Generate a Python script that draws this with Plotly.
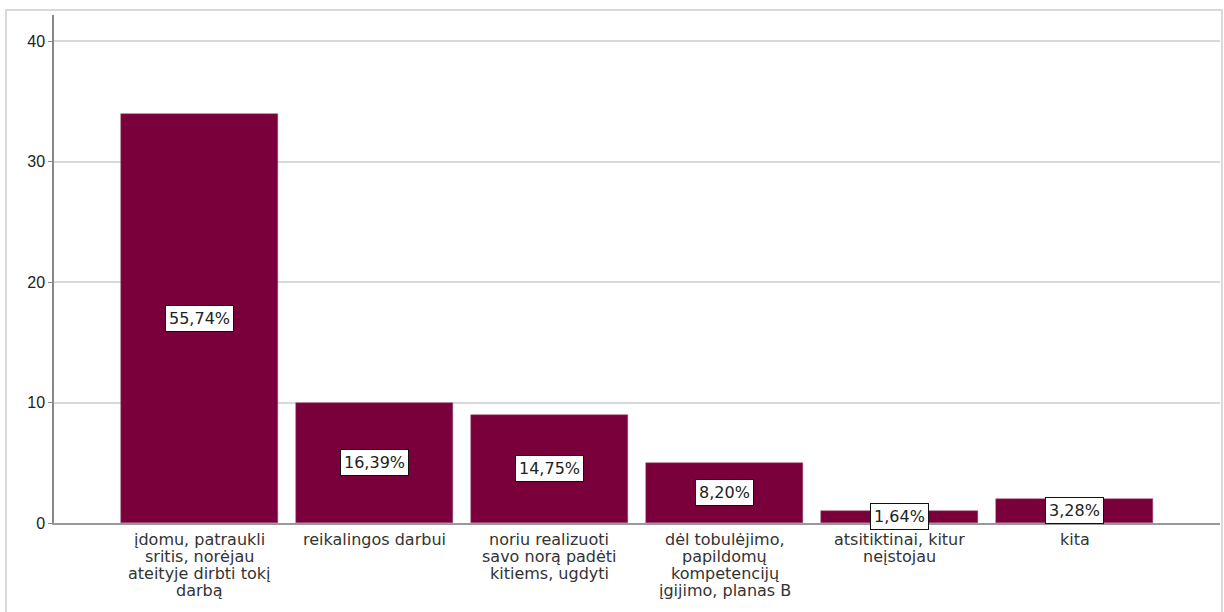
import plotly.graph_objects as go

categories = [
    "įdomu, patraukli\nsritis, norėjau\nateityje dirbti tokį\ndarbą",
    "reikalingos darbui",
    "noriu realizuoti\nsavo norą padėti\nkitiems, ugdyti",
    "dėl tobulėjimo,\npapildomų\nkompetencijų\nįgijimo, planas B",
    "atsitiktinai, kitur\nneįstojau",
    "kita",
]
counts = [34, 10, 9, 5, 1, 2]
pct_labels = ["55,74%", "16,39%", "14,75%", "8,20%", "1,64%", "3,28%"]
y_ticks = [0, 10, 20, 30, 40]

x_idx = list(range(len(categories)))
FONT = "DejaVu Sans"

fig = go.Figure()
fig.add_trace(go.Bar(
    x=x_idx, y=counts, width=0.897,
    marker=dict(color="#7A003C", line=dict(color="#9a4a70", width=0.5)),
    hoverinfo="skip",
))

for i, (c, p) in enumerate(zip(counts, pct_labels)):
    fig.add_annotation(
        x=i, y=c / 2, text=p, showarrow=False,
        font=dict(family=FONT, size=16, color="#222"),
        bgcolor="white", bordercolor="#111", borderwidth=1, borderpad=3,
    )

# category labels, one annotation per line for SPSS-like tight line spacing
for i, lab in enumerate(categories):
    for k, line in enumerate(lab.split("\n")):
        fig.add_annotation(
            x=i, xref="x", y=0, yref="paper", yanchor="top",
            yshift=-(6 + 17 * k), text=line, showarrow=False,
            font=dict(family=FONT, size=16, color="#333"), borderpad=0,
        )

fig.update_layout(
    width=1224, height=612,
    margin=dict(l=54, r=4, t=15, b=89),
    paper_bgcolor="white", plot_bgcolor="white",
    showlegend=False,
    font=dict(family=FONT, size=14, color="#333"),
    bargap=0,
    shapes=[dict(type="rect", xref="paper", yref="paper",
                 x0=-0.0412, x1=1.0017, y0=-0.2, y1=1.0098,
                 line=dict(color="#d9d9d9", width=2), layer="below")],
)
fig.update_xaxes(
    range=[-0.83, 5.83], tickmode="array", tickvals=x_idx,
    showticklabels=False,
    showgrid=False, showline=True, linecolor="#999", linewidth=1.5,
    ticks="", fixedrange=True,
)
fig.update_yaxes(
    range=[0, 42.2], tickmode="array", tickvals=y_ticks,
    showgrid=True, gridcolor="#d9d9d9", gridwidth=2,
    showline=True, linecolor="#888", linewidth=1.5,
    ticks="outside", ticklen=4, tickcolor="#888",
    tickfont=dict(family="Liberation Sans, Arial", size=16, color="#222"),
    zeroline=False, fixedrange=True,
)

fig.write_html("out.html", config={"displayModeBar": False},
               post_script="document.body.style.margin='0';")
